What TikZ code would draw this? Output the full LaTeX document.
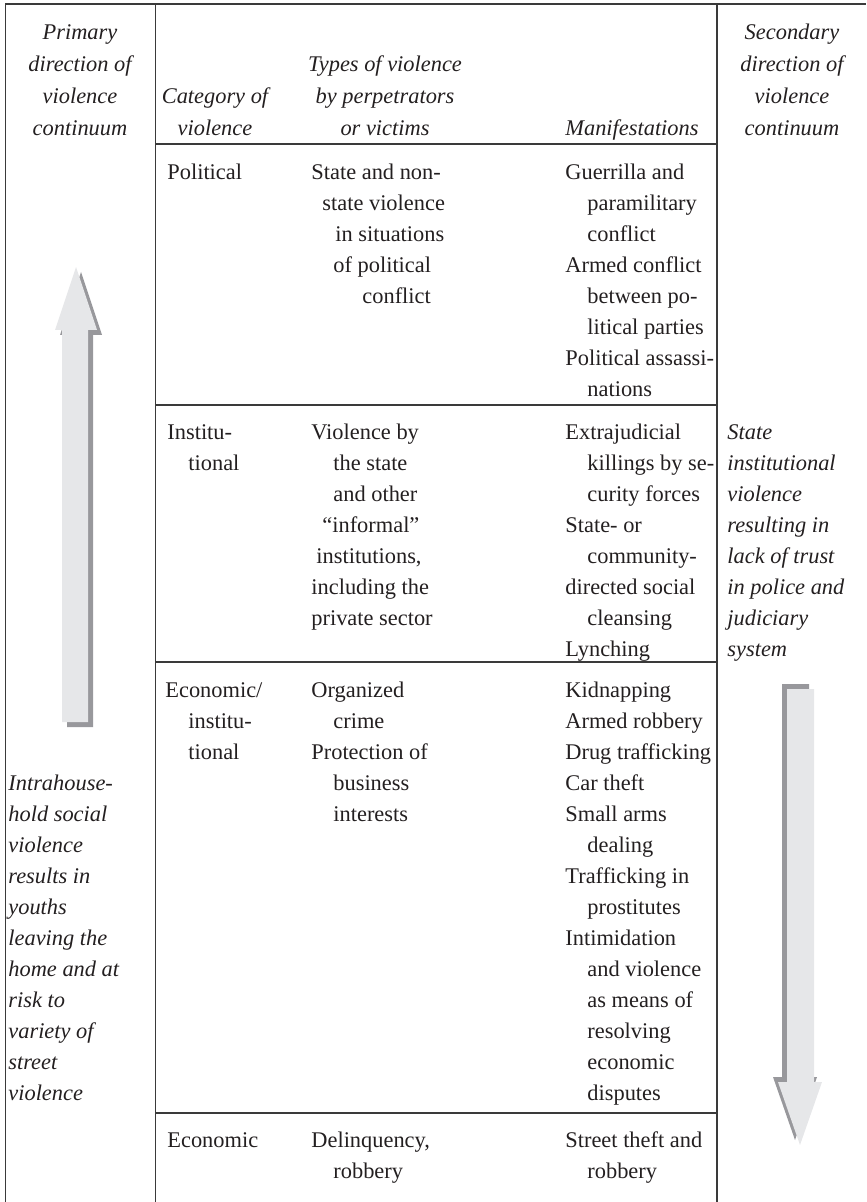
\documentclass[tikz,border=0pt]{standalone}
\usepackage{fontspec}
\setmainfont{Liberation Serif}
\definecolor{ink}{HTML}{231F20}
\definecolor{rule}{HTML}{3A3A3A}
\definecolor{arrowlight}{HTML}{E6E7E9}
\definecolor{arrowshade}{HTML}{98989C}
\newcounter{lnum}
\newcommand\tl[3]{\stepcounter{lnum}\node[txt,anchor=mid west] (t\arabic{lnum}) at (#1,#2) {#3};}
\newcommand\tc[3]{\stepcounter{lnum}\node[txt,anchor=mid] (t\arabic{lnum}) at (#1,#2) {#3};}
\newcommand\itl[3]{\stepcounter{lnum}\node[txt,anchor=mid west] (t\arabic{lnum}) at (#1,#2) {\itshape #3};}
\newcommand\itc[3]{\stepcounter{lnum}\node[txt,anchor=mid] (t\arabic{lnum}) at (#1,#2) {\itshape #3};}
\begin{document}
\begin{tikzpicture}[x=0.5pt,y=-0.5pt,
  txt/.style={inner sep=0pt,text=ink,font=\fontsize{11.2}{13}\selectfont},
  gridline/.style={draw=rule,line width=0.6pt},
  topline/.style={draw=rule,line width=0.9pt},
  lightfill/.style={fill=arrowlight},
  shadefill/.style={fill=arrowshade}]
\useasboundingbox (0,0) rectangle (866,1202);
% frame
\draw[topline] (5,4) -- (866,4);
\draw[gridline] (5.5,4) -- (5.5,1202);
\draw[gridline] (155.5,4) -- (155.5,1202);
\draw[gridline] (717,4) -- (717,1202);
\draw[gridline] (155.5,144) -- (717,144);
\draw[gridline] (155.5,405) -- (717,405);
\draw[gridline] (155.5,662) -- (717,662);
\draw[gridline] (155.5,1113) -- (717,1113);
% left arrow (up)
\fill[shadefill] (67,727) -- (67,335) -- (60,335) -- (81,272) -- (102,335) -- (93,335) -- (93,727) -- cycle;
\fill[lightfill] (62,722) -- (62,330) -- (55,330) -- (76,267) -- (97,330) -- (88,330) -- (88,722) -- cycle;
% right arrow (down)
\fill[shadefill] (782,684) -- (809,684) -- (809,1077) -- (817,1077) -- (795,1140) -- (773,1077) -- (782,1077) -- cycle;
\fill[lightfill] (787,689) -- (814,689) -- (814,1082) -- (822,1082) -- (800,1145) -- (778,1082) -- (787,1082) -- cycle;
% headers
\itc{80}{35}{Primary}
\itc{80}{67}{direction of}
\itc{80}{99}{violence}
\itc{80}{131}{continuum}
\itc{215}{99}{Category of}
\itc{215}{131}{violence}
\itc{385}{67}{Types of violence}
\itc{385}{99}{by perpetrators}
\itc{385}{131}{or victims}
\itl{565}{131}{Manifestations}
\itc{792}{35}{Secondary}
\itc{792}{67}{direction of}
\itc{792}{99}{violence}
\itc{792}{131}{continuum}
% row 1
\tl{167}{175}{Political}
\tl{311}{175}{State and non-}
\tl{322}{206}{state violence}
\tl{335}{237}{in situations}
\tl{333}{268}{of political}
\tl{362}{299}{conflict}
\tl{565}{175}{Guerrilla and}
\tl{587}{206}{paramilitary}
\tl{587}{237}{conflict}
\tl{565}{268}{Armed conflict}
\tl{587}{299}{between po-}
\tl{587}{330}{litical parties}
\tl{565}{361}{Political assassi-}
\tl{587}{392}{nations}
% row 2
\tl{167}{435}{Institu-}
\tl{188}{466}{tional}
\tl{311}{435}{Violence by}
\tl{333}{466}{the state}
\tl{333}{497}{and other}
\tl{322}{528}{“informal”}
\tl{316}{559}{institutions,}
\tl{311}{590}{including the}
\tl{311}{621}{private sector}
\tl{565}{435}{Extrajudicial}
\tl{587}{466}{killings by se-}
\tl{587}{497}{curity forces}
\tl{565}{528}{State- or}
\tl{587}{559}{community-}
\tl{565}{590}{directed social}
\tl{587}{621}{cleansing}
\tl{565}{652}{Lynching}
\itl{727}{435}{State}
\itl{727}{466}{institutional}
\itl{727}{497}{violence}
\itl{727}{528}{resulting in}
\itl{727}{559}{lack of trust}
\itl{727}{590}{in police and}
\itl{727}{621}{judiciary}
\itl{727}{652}{system}
% row 3
\tl{165}{693}{Economic/}
\tl{188}{724}{institu-}
\tl{188}{755}{tional}
\tl{311}{693}{Organized}
\tl{333}{724}{crime}
\tl{311}{755}{Protection of}
\tl{333}{786}{business}
\tl{333}{817}{interests}
\tl{565}{693}{Kidnapping}
\tl{565}{724}{Armed robbery}
\tl{565}{755}{Drug trafficking}
\tl{565}{786}{Car theft}
\tl{565}{817}{Small arms}
\tl{587}{848}{dealing}
\tl{565}{879}{Trafficking in}
\tl{587}{910}{prostitutes}
\tl{565}{941}{Intimidation}
\tl{587}{972}{and violence}
\tl{587}{1003}{as means of}
\tl{587}{1034}{resolving}
\tl{587}{1065}{economic}
\tl{587}{1096}{disputes}
\itl{8}{786}{Intrahouse-}
\itl{8}{817}{hold social}
\itl{8}{848}{violence}
\itl{8}{879}{results in}
\itl{8}{910}{youths}
\itl{8}{941}{leaving the}
\itl{8}{972}{home and at}
\itl{8}{1003}{risk to}
\itl{8}{1034}{variety of}
\itl{8}{1065}{street}
\itl{8}{1096}{violence}
% row 4
\tl{167}{1143}{Economic}
\tl{311}{1143}{Delinquency,}
\tl{333}{1174}{robbery}
\tl{565}{1143}{Street theft and}
\tl{587}{1174}{robbery}
\end{tikzpicture}
\end{document}
